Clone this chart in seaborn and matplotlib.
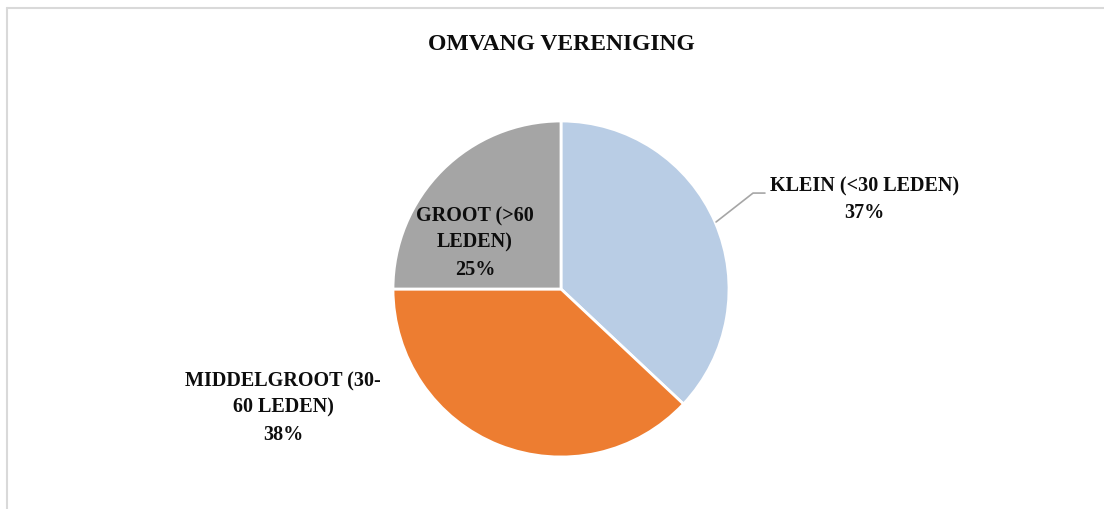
import matplotlib
matplotlib.use("Agg")
import matplotlib.pyplot as plt
import seaborn as sns
from matplotlib.lines import Line2D

categories = ["KLEIN (<30 LEDEN)", "MIDDELGROOT (30-\n60 LEDEN)", "GROOT (>60\nLEDEN)"]
shares = [37, 38, 25]
colors = ["#B9CDE5", "#ED7D31", "#A5A5A5"]

sns.set_theme(style="white")
plt.rcParams["font.family"] = ["Liberation Serif", "DejaVu Serif"]

fig = plt.figure(figsize=(11.04, 5.09), dpi=100)

# pie center ~ (561, 289) px, radius ~168 px
cx, cy, r = 561, 289, 168
W, H = 1104, 509
ax = fig.add_axes([(cx - r) / W, (H - cy - r) / H, 2 * r / W, 2 * r / H])
ax.pie(
    shares,
    colors=colors,
    startangle=90,
    counterclock=False,
    wedgeprops=dict(edgecolor="white", linewidth=2),
)
ax.set_xlim(-1, 1)
ax.set_ylim(-1, 1)
ax.set_aspect("auto")
ax.axis("off")

lab_kw = dict(ha="center", va="center", fontsize=14.5, fontweight="bold",
              color="#0d0d0d", linespacing=1.45, clip_on=False)
ax.text(1.804, 0.530, f"{categories[0]}\n{shares[0]}%", **lab_kw)
ax.text(-1.655, -0.708, f"{categories[1]}\n{shares[1]}%", **lab_kw)
ax.text(-0.512, 0.274, f"{categories[2]}\n{shares[2]}%", **lab_kw)

# leader line for KLEIN
ax.plot([0.923, 1.143, 1.214], [0.399, 0.571, 0.571], color="#A6A6A6",
        lw=1.2, clip_on=False)

fig.text(cx / W, 1 - 45 / H, "OMVANG VERENIGING", ha="center", va="center",
         fontsize=17, fontweight="bold", color="#0d0d0d")

# chart area border (left and top visible)
fig.add_artist(Line2D([7 / W, 7 / W], [0, 1 - 7.5 / H], transform=fig.transFigure,
                      color="#D9D9D9", lw=1.5))
fig.add_artist(Line2D([7 / W, 1], [1 - 7.5 / H, 1 - 7.5 / H], transform=fig.transFigure,
                      color="#D9D9D9", lw=1.5))

fig.savefig("out.png", dpi=100, facecolor="white")
